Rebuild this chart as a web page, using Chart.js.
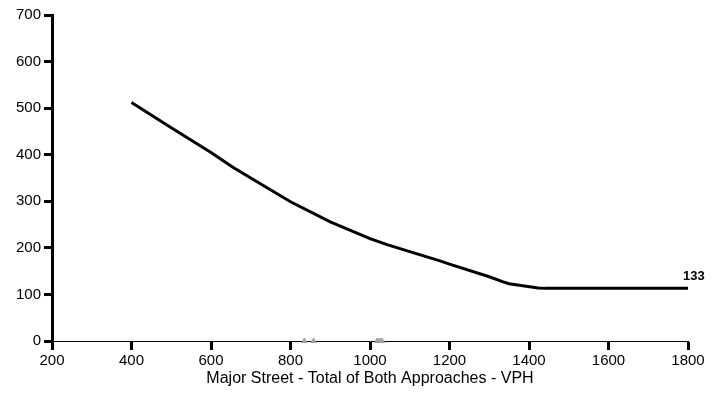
<!DOCTYPE html>
<html>
<head>
<meta charset="utf-8">
<script src="https://cdn.jsdelivr.net/npm/chart.js@4/dist/chart.umd.min.js"></script>
<style>
  html, body { margin: 0; padding: 0; background: #fff; }
  #wrap { width: 722px; height: 406px; }
</style>
</head>
<body>
<div id="wrap"><canvas id="chart"></canvas></div>
<script>
// threshold curve
var curveX = [400, 500, 600, 655, 700, 800, 900, 1000, 1043, 1100, 1176, 1200, 1300, 1335, 1350, 1423, 1440, 1800];
var curveY = [512, 458, 405, 373, 350, 299, 256, 220, 207, 192, 172, 165, 138, 127, 123, 114, 113, 113];

// small grey markers sitting on the x axis
var markX = [835, 858, 1018, 1024, 1030];
var markY = [0, 0, 0, 0, 0];

var xTicks = [200, 400, 600, 800, 1000, 1200, 1400, 1600, 1800];
var yTicks = [0, 100, 200, 300, 400, 500, 600, 700];
var endLabel = "133";
var xTitle = "Major Street - Total of Both Approaches - VPH";

var ctx = document.getElementById("chart");
var fam = "'Liberation Sans', Arial, sans-serif";

var endLabelPlugin = {
    id: "endLabel",
    afterDatasetsDraw(chart) {
        let meta = chart.getDatasetMeta(0);
        let last = meta.data[meta.data.length - 1];
        let c = chart.ctx;
        c.save();
        c.font = "bold 13px " + fam;
        c.fillStyle = "#000";
        c.textAlign = "left";
        c.textBaseline = "middle";
        c.fillText(endLabel, last.x - 5, last.y - 12);
        c.restore();
    }
};

var chart = new Chart(ctx, {
    type: "scatter",
    data: {
        datasets: [
            {
                data: curveX.map((x, i) => ({ x: x, y: curveY[i] })),
                showLine: true,
                borderColor: "#000",
                borderWidth: 3,
                pointRadius: 0,
                tension: 0
            },
            {
                data: markX.map((x, i) => ({ x: x, y: markY[i] })),
                showLine: false,
                pointStyle: "triangle",
                pointRadius: 3,
                backgroundColor: "#aaa",
                borderColor: "#999",
                borderWidth: 1,
                clip: false
            }
        ]
    },
    options: {
        responsive: true,
        maintainAspectRatio: false,
        animation: false,
        layout: { padding: { top: 15, right: 34, bottom: 18, left: 0 } },
        plugins: {
            legend: { display: false },
            tooltip: { enabled: false }
        },
        scales: {
            x: {
                type: "linear",
                min: 200,
                max: 1800,
                afterBuildTicks: s => { s.ticks = xTicks.map(v => ({ value: v })); },
                afterFit: s => { s.height = 47; },
                grid: { drawOnChartArea: false, color: "#000", tickColor: "#000", tickLength: 9, tickWidth: 3 },
                border: { display: true, color: "#000", width: 1 },
                ticks: { color: "#000", font: { size: 15, family: fam }, padding: 2, callback: v => String(v) },
                title: {
                    display: true,
                    text: xTitle,
                    color: "#000",
                    font: { size: 16, family: fam },
                    padding: { top: 2, bottom: 0 }
                }
            },
            y: {
                min: 0,
                max: 700,
                afterBuildTicks: s => { s.ticks = yTicks.map(v => ({ value: v })); },
                afterFit: s => { s.width = 52; },
                grid: { drawOnChartArea: false, color: "#000", tickColor: "#000", tickLength: 8, tickWidth: 3 },
                border: { display: true, color: "#000", width: 3 },
                ticks: { color: "#000", font: { size: 15, family: fam }, padding: 3, callback: v => String(v) }
            }
        }
    },
    plugins: [endLabelPlugin]
});
</script>
</body>
</html>
